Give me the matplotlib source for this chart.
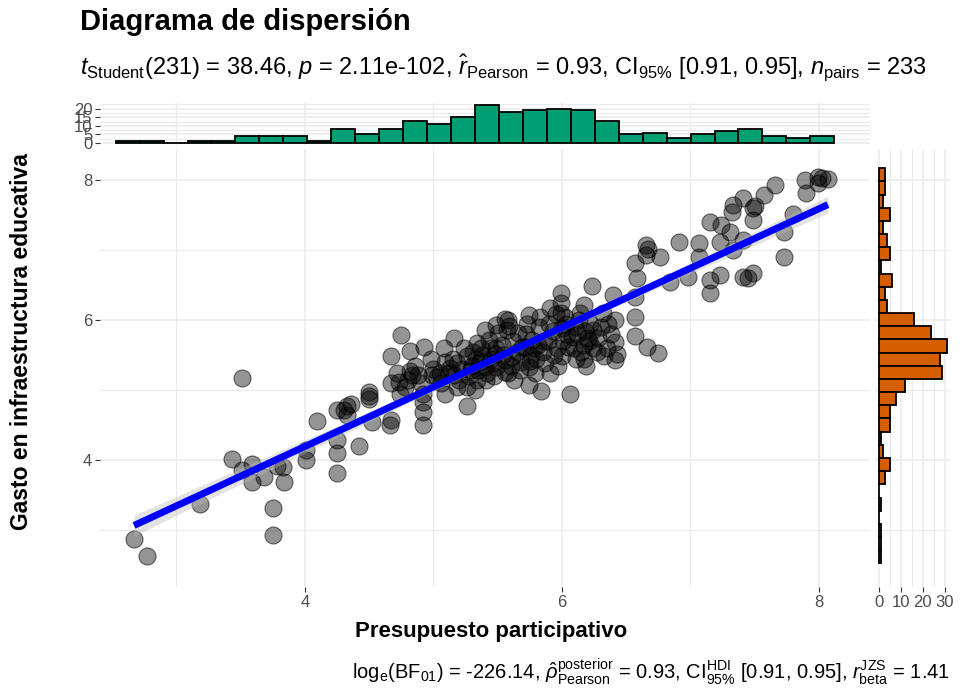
import numpy as np
import matplotlib.pyplot as plt
from matplotlib.ticker import MultipleLocator

plt.rcParams['font.family'] = ['Liberation Sans', 'DejaVu Sans']
plt.rcParams['mathtext.fontset'] = 'custom'
plt.rcParams['mathtext.rm'] = 'Liberation Sans'
plt.rcParams['mathtext.it'] = 'Liberation Sans:italic'
plt.rcParams['mathtext.bf'] = 'Liberation Sans:bold'

# presupuesto participativo (x) vs gasto en infraestructura educativa (y)
puntos = [
    (2.67, 2.87), (2.77, 2.63), (3.18, 3.37), (3.43, 4.01), (3.51, 5.17),
    (3.51, 3.86), (3.59, 3.94), (3.59, 3.68), (3.68, 3.76), (3.75, 3.32),
    (3.75, 2.93), (3.78, 3.91), (3.83, 3.90), (3.84, 3.68), (4.01, 4.00),
    (4.01, 4.14), (4.09, 4.56),
    (4.25, 4.71), (4.33, 4.77), (4.33, 4.64), (4.25, 4.29), (4.25, 4.10),
    (4.25, 3.82), (4.30, 4.72), (4.36, 4.80),
    (4.42, 4.20), (4.50, 4.97), (4.50, 4.87), (4.52, 4.55), (4.50, 4.92),
    (4.67, 5.49), (4.75, 5.79), (4.67, 5.10), (4.73, 5.12), (4.74, 4.95),
    (4.67, 4.57), (4.66, 4.50), (4.72, 5.25),
    (4.82, 5.56), (4.93, 5.62), (4.83, 5.21), (4.82, 5.27), (4.88, 5.22),
    (4.92, 4.95), (4.92, 4.83), (4.92, 4.69), (4.92, 4.50), (4.78, 5.05),
    (4.86, 5.35), (4.80, 5.15), (4.90, 5.10),
    (5.08, 5.60), (4.99, 5.21), (5.05, 5.24), (5.09, 5.40), (5.09, 4.95),
    (5.00, 5.30), (5.03, 5.18), (5.12, 5.25), (5.06, 5.10), (4.98, 5.45),
    (5.13, 5.32),
    (5.16, 5.74), (5.18, 5.38), (5.26, 5.48), (5.31, 5.55), (5.26, 5.05),
    (5.26, 4.77), (5.18, 5.05), (5.16, 5.22), (5.22, 5.30), (5.28, 5.20),
    (5.20, 5.15), (5.30, 5.35), (5.24, 5.60), (5.15, 5.45), (5.29, 5.28),
    (5.34, 5.67), (5.40, 5.86), (5.50, 5.81), (5.49, 5.60), (5.40, 5.33),
    (5.32, 5.00), (5.34, 5.14), (5.49, 5.93), (5.49, 5.33), (5.45, 5.45),
    (5.38, 5.50), (5.42, 5.25), (5.36, 5.40), (5.47, 5.20), (5.44, 5.60),
    (5.35, 5.28), (5.41, 5.15), (5.48, 5.52), (5.37, 5.60), (5.46, 5.38),
    (5.43, 5.72), (5.33, 5.45),
    (5.56, 6.02), (5.57, 5.86), (5.56, 5.43), (5.56, 5.26), (5.58, 6.00),
    (5.58, 5.24), (5.62, 5.70), (5.65, 5.55), (5.60, 5.35), (5.68, 5.40),
    (5.53, 5.65), (5.63, 5.15), (5.66, 5.82), (5.54, 5.50), (5.69, 5.62),
    (5.61, 5.47), (5.67, 5.28), (5.59, 5.92),
    (5.74, 6.07), (5.83, 6.05), (5.74, 5.07), (5.84, 4.98), (5.74, 5.33),
    (5.78, 5.60), (5.72, 5.80), (5.80, 5.45), (5.86, 5.70), (5.76, 5.50),
    (5.82, 5.90), (5.71, 5.62), (5.79, 5.25), (5.85, 5.55), (5.73, 5.95),
    (5.87, 5.38), (5.77, 5.72), (5.81, 5.65), (5.75, 5.42),
    (5.99, 6.39), (5.99, 6.24), (5.91, 6.17), (5.91, 5.24), (6.00, 5.48),
    (6.06, 4.95), (5.95, 6.08), (5.99, 6.10), (6.03, 5.95), (5.93, 5.85),
    (6.01, 5.70), (5.96, 5.60), (6.04, 5.80), (5.90, 5.95), (5.97, 5.35),
    (6.05, 5.62), (5.94, 5.50), (6.02, 6.05), (5.89, 5.70), (6.00, 5.88),
    (6.17, 6.21), (6.24, 5.86), (6.08, 5.76), (6.17, 5.45), (6.17, 5.64),
    (6.10, 5.90), (6.13, 6.00), (6.20, 5.75), (6.15, 5.55), (6.22, 5.95),
    (6.09, 5.60), (6.19, 5.35), (6.12, 5.80), (6.24, 5.60), (6.11, 5.45),
    (6.21, 5.70), (6.14, 6.10), (6.18, 5.85), (6.23, 6.49),
    (6.40, 6.36), (6.41, 6.00), (6.41, 5.69), (6.41, 5.43), (6.33, 5.48),
    (6.38, 5.80), (6.30, 5.90), (6.35, 5.60), (6.28, 5.75), (6.36, 5.95),
    (6.32, 6.10), (6.27, 5.55), (6.43, 5.52),
    (6.57, 6.81), (6.58, 6.60), (6.57, 6.33), (6.57, 6.05), (6.57, 5.77),
    (6.65, 7.07), (6.67, 7.02), (6.65, 6.93), (6.76, 6.90), (6.66, 5.62),
    (6.75, 5.53),
    (6.84, 6.55), (6.91, 7.12), (6.98, 6.62),
    (7.07, 7.10), (7.07, 6.90), (7.15, 7.40), (7.15, 6.57), (7.15, 6.38),
    (7.24, 7.36), (7.31, 7.26), (7.23, 7.12), (7.33, 7.00), (7.23, 6.64),
    (7.32, 7.55), (7.33, 7.65),
    (7.41, 7.74), (7.49, 7.60), (7.50, 7.63), (7.49, 7.43), (7.41, 7.14),
    (7.41, 6.62), (7.49, 6.67), (7.45, 6.60),
    (7.66, 7.93), (7.57, 7.79), (7.73, 7.26), (7.73, 6.90),
    (7.80, 7.52), (7.89, 8.00), (7.90, 7.81),
    (7.99, 8.05), (8.07, 8.02), (7.99, 7.96), (8.02, 8.03),
]
presupuesto, gasto = np.array(puntos).T

# marginal histograms, 30 bins each
conteo_x = [1, 1, 0, 1, 1, 4, 4, 4, 1, 8, 5, 8, 13, 11, 15,
            22, 18, 19, 20, 19, 13, 5, 6, 3, 5, 7, 8, 4, 3, 4]
bordes_x = np.linspace(2.527, 8.119, 31)
# listed from the highest bin down
conteo_y = [3, 3, 2, 5, 2, 4, 5, 1, 6, 3, 4, 16, 24, 31, 28,
            29, 12, 8, 5, 5, 1, 2, 5, 3, 0, 1, 0, 1, 1, 1]
bordes_y = np.linspace(8.167, 2.524, 31)

titulo = 'Diagrama de dispersión'
subtitulo = (r'$t_{\mathrm{Student}}$(231) = 38.46, $p$ = 2.11e-102, '
             r'$\hat{r}_{\mathrm{Pearson}}$ = 0.93, CI$_{95\%}$ [0.91, 0.95], '
             r'$n_{\mathrm{pairs}}$ = 233')
pie = (r'log$_{\mathrm{e}}$(BF$_{01}$) = -226.14, '
       r'$\hat{\rho}_{\mathrm{Pearson}}^{\mathrm{posterior}}$ = 0.93, '
       r'CI$_{95\%}^{\mathrm{HDI}}$ [0.91, 0.95], '
       r'$r_{\mathrm{beta}}^{\mathrm{JZS}}$ = 1.41')

W, H = 973, 690
fig = plt.figure(figsize=(W / 100, H / 100), dpi=100)

def caja(x0, y0, x1, y1):
    return [x0 / W, 1 - y1 / H, (x1 - x0) / W, (y1 - y0) / H]

ax = fig.add_axes(caja(100, 149, 870, 587))
ax_top = fig.add_axes(caja(100, 103, 870, 145))
ax_der = fig.add_axes(caja(875, 149, 950, 587))

gris_grid = '#EBEBEB'
gris_txt = '#4D4D4D'

for a in (ax, ax_top, ax_der):
    for s in a.spines.values():
        s.set_visible(False)
    a.set_axisbelow(True)
    a.grid(True, which='major', color=gris_grid, lw=1.1)
    a.grid(True, which='minor', color=gris_grid, lw=0.9)
    a.tick_params(which='major', length=3.5, width=0.8, color='#333333',
                  labelcolor=gris_txt, labelsize=12, pad=2)
    a.tick_params(which='minor', length=0)

# main scatter
ax.scatter(presupuesto, gasto, s=150, facecolor=(0, 0, 0, 0.42),
           edgecolor=(0, 0, 0, 0.55), linewidth=0.8, zorder=2)

b, a0 = np.polyfit(presupuesto, gasto, 1)
xs = np.linspace(presupuesto.min(), presupuesto.max(), 100)
ys = a0 + b * xs
n = len(presupuesto)
res = gasto - (a0 + b * presupuesto)
s_err = np.sqrt(np.sum(res ** 2) / (n - 2))
sxx = np.sum((presupuesto - presupuesto.mean()) ** 2)
banda = 1.97 * s_err * np.sqrt(1 / n + (xs - presupuesto.mean()) ** 2 / sxx)
ax.fill_between(xs, ys - banda, ys + banda, color='#BBBBBB', alpha=0.4,
                lw=0, zorder=3)
ax.plot(xs, ys, color='blue', lw=5, zorder=4, solid_capstyle='butt')

ax.set_xlim(2.405, 8.397)
ax.set_ylim(2.186, 8.443)
ax.xaxis.set_major_locator(MultipleLocator(2))
ax.xaxis.set_minor_locator(MultipleLocator(1))
ax.yaxis.set_major_locator(MultipleLocator(2))
ax.yaxis.set_minor_locator(MultipleLocator(1))

# top histogram
ax_top.bar(bordes_x[:-1], conteo_x, width=np.diff(bordes_x), align='edge',
           color='#009E73', edgecolor='black', lw=1.3, zorder=2)
ax_top.set_xlim(ax.get_xlim())
ax_top.set_ylim(-1.16, 23.26)
ax_top.xaxis.set_major_locator(MultipleLocator(2))
ax_top.xaxis.set_minor_locator(MultipleLocator(1))
ax_top.yaxis.set_major_locator(MultipleLocator(5))
ax_top.yaxis.set_minor_locator(MultipleLocator(2.5))
ax_top.tick_params(axis='x', which='both', length=0, labelbottom=False)

# right histogram
ax_der.barh(bordes_y[1:], conteo_y, height=bordes_y[:-1] - bordes_y[1:],
            align='edge', color='#D55E00', edgecolor='black', lw=1.3, zorder=2)
ax_der.set_ylim(ax.get_ylim())
ax_der.set_xlim(-1.64, 32.45)
ax_der.xaxis.set_major_locator(MultipleLocator(10))
ax_der.xaxis.set_minor_locator(MultipleLocator(5))
ax_der.yaxis.set_major_locator(MultipleLocator(2))
ax_der.yaxis.set_minor_locator(MultipleLocator(1))
ax_der.tick_params(axis='y', which='both', length=0, labelleft=False)

fig.text(80 / W, 1 - 22 / H, titulo, fontsize=21, fontweight='bold',
         ha='left', va='center')
fig.text(80 / W, 1 - 68 / H, subtitulo, fontsize=17, ha='left', va='center')
fig.text(491 / W, 1 - 632 / H, 'Presupuesto participativo', fontsize=16,
         fontweight='bold', ha='center', va='center')
fig.text(22 / W, 1 - 342 / H, 'Gasto en infraestructura educativa',
         fontsize=16.5, fontweight='bold', rotation=90, ha='center', va='center')
fig.text(950 / W, 1 - 672 / H, pie, fontsize=14.5, ha='right', va='center')

fig.savefig('out.png', dpi=100)
